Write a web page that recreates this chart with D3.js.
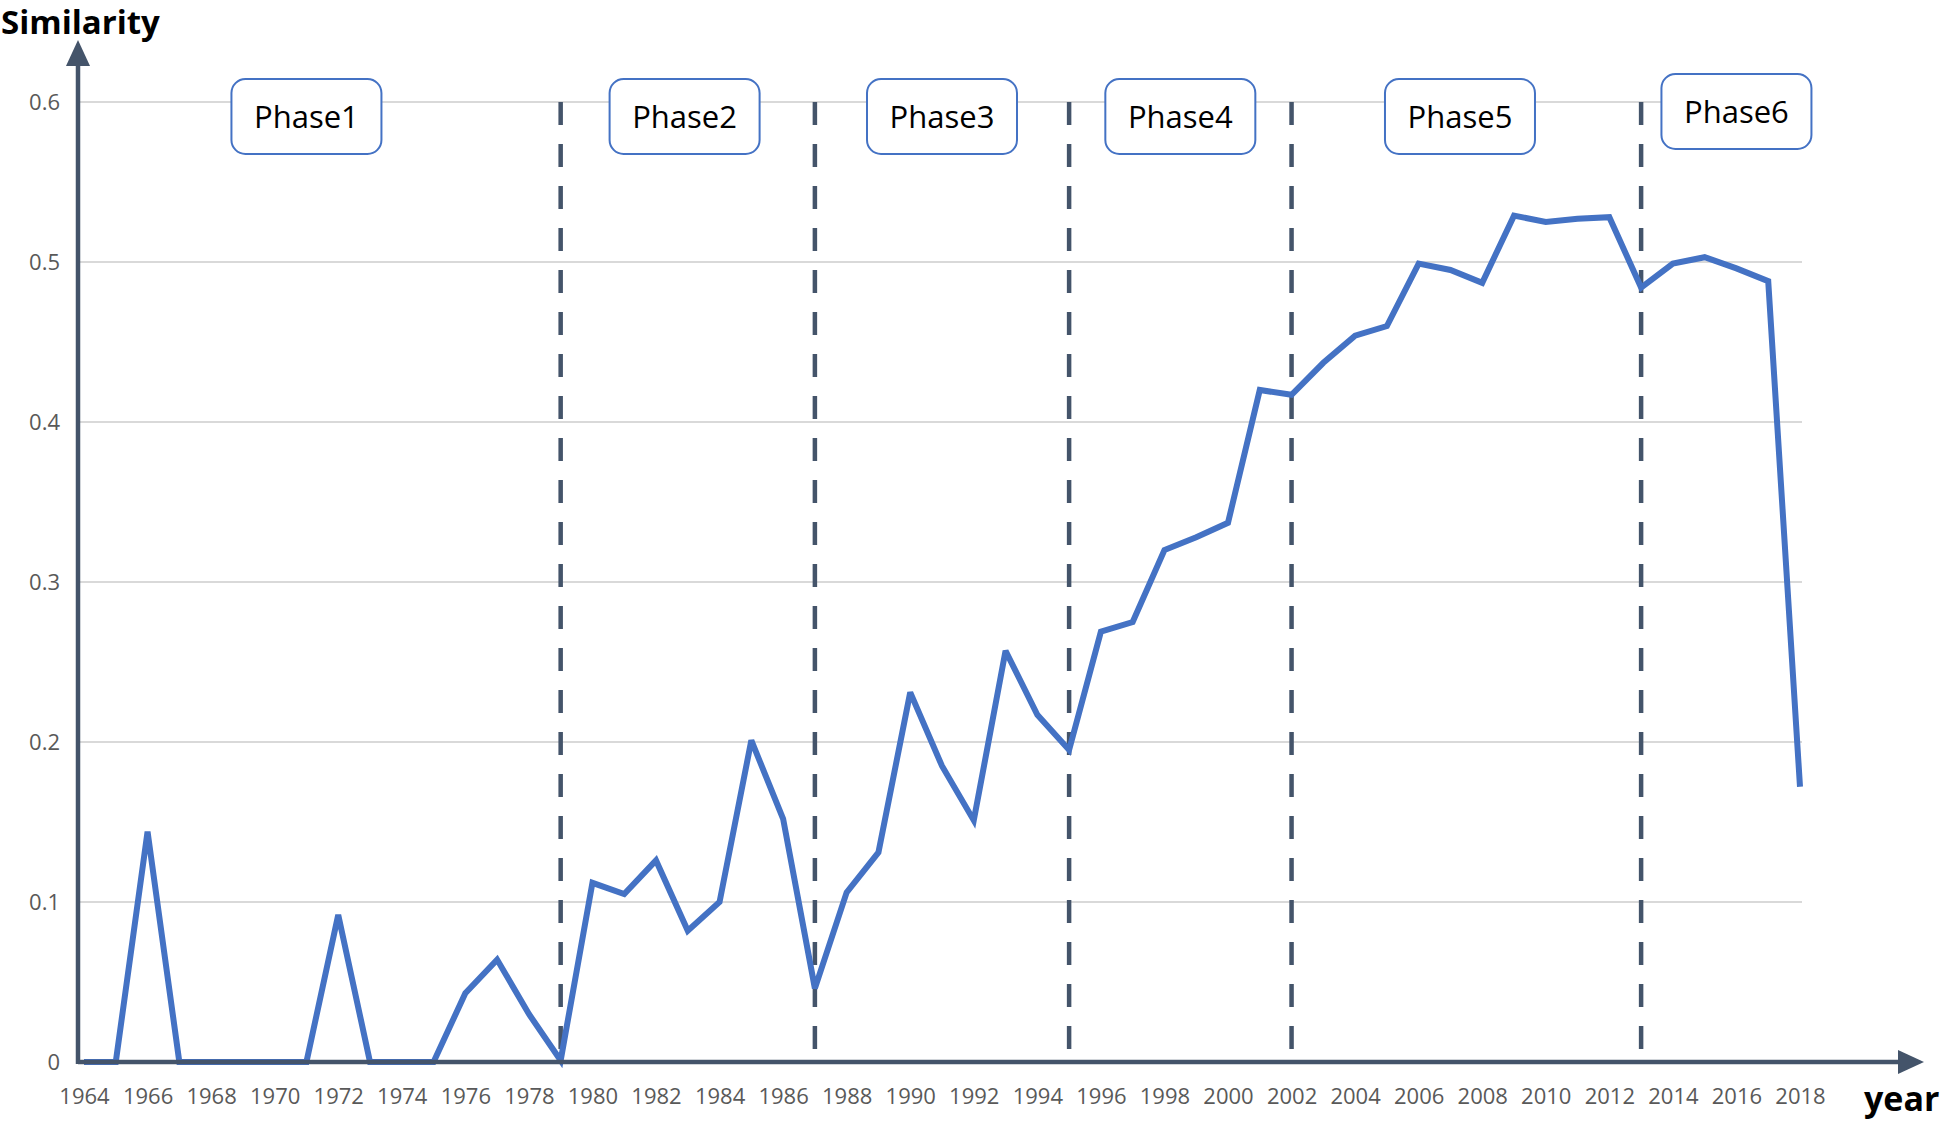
<!DOCTYPE html>
<html>
<head>
<meta charset="utf-8">
<script src="https://cdn.jsdelivr.net/npm/d3@7"></script>
<style>
  body { margin: 0; background: #fff; }
  text { font-family: "Open Sans", "Noto Sans", sans-serif; }
</style>
</head>
<body>
<script>
const width = 1946;
const height = 1124;

const years = d3.range(1964, 2019);
const similarity = [
  0, 0, 0.144, 0, 0, 0, 0, 0, 0.092, 0,
  0, 0, 0.043, 0.064, 0.030, 0.001, 0.112, 0.105, 0.126, 0.082,
  0.100, 0.201, 0.152, 0.046, 0.106, 0.131, 0.231, 0.185, 0.151, 0.257,
  0.217, 0.195, 0.269, 0.275, 0.320, 0.328, 0.337, 0.420, 0.417, 0.437,
  0.454, 0.460, 0.499, 0.495, 0.487, 0.529, 0.525, 0.527, 0.528, 0.484,
  0.499, 0.503, 0.496, 0.488, 0.172
];
const yTicks = [0, 0.1, 0.2, 0.3, 0.4, 0.5, 0.6];
const xTicks = d3.range(1964, 2019, 2);
const dividerYears = [1979, 1987, 1995, 2002, 2013];
const phaseNames = ["Phase1", "Phase2", "Phase3", "Phase4", "Phase5", "Phase6"];
const phaseCenters = [1971.0, 1982.9, 1991.0, 1998.5, 2007.3, 2016.0];
const phaseTops = [79, 79, 79, 79, 79, 74];

const axisColor = "#44546A";
const lineColor = "#4472C4";

const x = d3.scaleLinear().domain([1964, 2018]).range([84, 1800]);
const y = d3.scaleLinear().domain([0, 0.6]).range([1062, 102]);
const axisX0 = 78;

const svg = d3.select("body")
  .append("svg")
  .attr("width", width)
  .attr("height", height);

// horizontal gridlines
svg.append("g")
  .selectAll("line")
  .data(yTicks.filter(d => d > 0))
  .enter()
  .append("line")
  .attr("x1", axisX0)
  .attr("x2", 1802)
  .attr("y1", d => y(d))
  .attr("y2", d => y(d))
  .attr("stroke", "#D9D9D9")
  .attr("stroke-width", 2);

// y tick labels
const yAxis = svg.append("g")
  .attr("transform", `translate(${axisX0},0)`)
  .call(d3.axisLeft(y).tickValues(yTicks).tickSize(0).tickPadding(18)
    .tickFormat(d => d === 0 ? "0" : d3.format(".1f")(d)));
yAxis.select(".domain").remove();
yAxis.selectAll("text")
  .attr("fill", "#595959")
  .style("font-size", "22px")
  .style("font-family", "'Open Sans', sans-serif");

// x tick labels
const xAxis = svg.append("g")
  .attr("transform", `translate(0,${y(0)})`)
  .call(d3.axisBottom(x).tickValues(xTicks).tickSize(0).tickPadding(26)
    .tickFormat(d3.format("d")));
xAxis.select(".domain").remove();
xAxis.selectAll("text")
  .attr("fill", "#595959")
  .style("font-size", "22px")
  .style("font-family", "'Open Sans', sans-serif");

// phase dividers
svg.append("g")
  .selectAll("line")
  .data(dividerYears)
  .enter()
  .append("line")
  .attr("x1", d => x(d))
  .attr("x2", d => x(d))
  .attr("y1", y(0.6))
  .attr("y2", y(0))
  .attr("stroke", axisColor)
  .attr("stroke-width", 4.5)
  .attr("stroke-dasharray", "23,19");

// data line
const line = d3.line()
  .x((d, i) => x(years[i]))
  .y(d => y(d));

svg.append("path")
  .datum(similarity)
  .attr("d", line)
  .attr("fill", "none")
  .attr("stroke", lineColor)
  .attr("stroke-width", 6)
  .attr("stroke-linejoin", "miter")
  .attr("stroke-miterlimit", 3);

// axes with arrows
svg.append("line")
  .attr("x1", axisX0)
  .attr("x2", 1900)
  .attr("y1", y(0))
  .attr("y2", y(0))
  .attr("stroke", axisColor)
  .attr("stroke-width", 4.5);

svg.append("path")
  .attr("d", `M1924,${y(0)} L1898,${y(0) - 12} L1898,${y(0) + 12} Z`)
  .attr("fill", axisColor);

svg.append("line")
  .attr("x1", axisX0)
  .attr("x2", axisX0)
  .attr("y1", y(0) + 2)
  .attr("y2", 64)
  .attr("stroke", axisColor)
  .attr("stroke-width", 4.5);

svg.append("path")
  .attr("d", `M${axisX0},40 L${axisX0 - 12},66 L${axisX0 + 12},66 Z`)
  .attr("fill", axisColor);

// axis titles
svg.append("text")
  .attr("x", 1)
  .attr("y", 34)
  .attr("font-size", 33)
  .attr("font-weight", "bold")
  .attr("fill", "#000")
  .text("Similarity");

svg.append("text")
  .attr("x", 1864)
  .attr("y", 1111)
  .attr("font-size", 34)
  .attr("font-weight", "bold")
  .attr("fill", "#000")
  .text("year");

// phase boxes
const boxW = 150;
const boxH = 75;
const phases = svg.append("g")
  .selectAll("g")
  .data(phaseNames)
  .enter()
  .append("g")
  .attr("transform", (d, i) => `translate(${x(phaseCenters[i]) - boxW / 2},${phaseTops[i]})`);

phases.append("rect")
  .attr("width", boxW)
  .attr("height", boxH)
  .attr("rx", 14)
  .attr("fill", "#fff")
  .attr("stroke", lineColor)
  .attr("stroke-width", 2);

phases.append("text")
  .attr("x", boxW / 2)
  .attr("y", boxH / 2)
  .attr("dy", "0.36em")
  .attr("text-anchor", "middle")
  .attr("font-size", 31)
  .attr("fill", "#000")
  .text(d => d);
</script>
</body>
</html>
